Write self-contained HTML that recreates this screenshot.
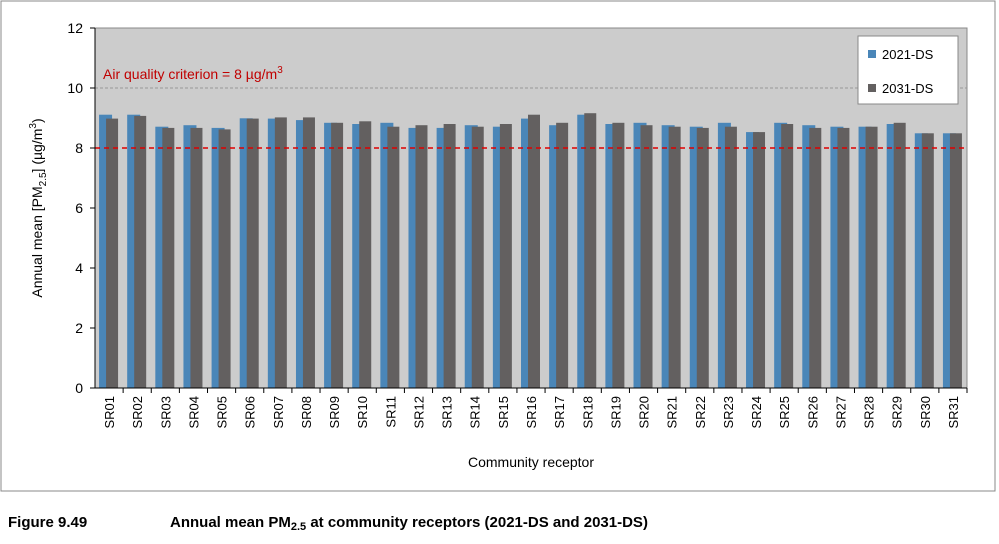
<!DOCTYPE html>
<html><head><meta charset="utf-8"><style>
body{margin:0;background:#fff;font-family:"Liberation Sans",Arial,sans-serif;}
#wrap{position:relative;width:999px;height:539px;}
</style></head><body>
<div id="wrap">
<svg id="chart" width="999" height="539" font-family="Liberation Sans, Arial, sans-serif">
<rect x="1" y="1" width="994" height="490" fill="#fff" stroke="#888"/>
<rect x="95" y="28" width="872" height="360" fill="#cccccc" stroke="#888"/>
<g id="grid"></g><g id="bars"></g><g id="axes"></g>
<text x="103" y="79" fill="#c00000" font-size="14">Air quality criterion = 8 µg/m<tspan dy="-6" font-size="10">3</tspan></text>
<text transform="translate(42,208) rotate(-90)" text-anchor="middle" font-size="14">Annual mean [PM<tspan dy="4" font-size="10">2.5</tspan><tspan dy="-4">] (µg/m</tspan><tspan dy="-6" font-size="10">3</tspan><tspan dy="6">)</tspan></text>
<text x="531" y="467" text-anchor="middle" font-size="14">Community receptor</text>
<g>
<rect x="858" y="36" width="100" height="68" fill="#fff" stroke="#888"/>
<rect x="868" y="50" width="8" height="8" fill="#4a86b8"/>
<text x="882" y="59" font-size="13">2021-DS</text>
<rect x="868" y="84" width="8" height="8" fill="#636060"/>
<text x="882" y="93" font-size="13">2031-DS</text>
</g>
<text x="8" y="527" font-size="15" font-weight="bold">Figure 9.49</text>
<text x="170" y="527" font-size="15" font-weight="bold">Annual mean PM<tspan dy="3" font-size="11">2.5</tspan><tspan dy="-3"> at community receptors (2021-DS and 2031-DS)</tspan></text>
</svg>
</div>
<script>
const categories=["SR01","SR02","SR03","SR04","SR05","SR06","SR07","SR08","SR09","SR10","SR11","SR12","SR13","SR14","SR15","SR16","SR17","SR18","SR19","SR20","SR21","SR22","SR23","SR24","SR25","SR26","SR27","SR28","SR29","SR30","SR31"];
const series2021=[9.11,9.11,8.71,8.76,8.67,8.99,8.98,8.93,8.84,8.8,8.84,8.67,8.67,8.76,8.71,8.98,8.76,9.11,8.8,8.84,8.76,8.71,8.84,8.53,8.84,8.76,8.71,8.71,8.8,8.49,8.49];
const series2031=[8.98,9.07,8.67,8.67,8.62,8.98,9.02,9.02,8.84,8.89,8.71,8.76,8.8,8.71,8.8,9.11,8.84,9.16,8.84,8.76,8.71,8.67,8.71,8.53,8.8,8.67,8.67,8.71,8.84,8.49,8.49];
const yTicks=[0,2,4,6,8,10,12];
const gridTicks=[10];
const criterion=8;
const NS="http://www.w3.org/2000/svg";
const X0=95,X1=967,Y0=388,Y1=28,YMAX=12;
const y=v=>Y0-(v/YMAX)*(Y0-Y1);
const bw=(X1-X0)/categories.length;
const xc=i=>X0+bw*(i+0.5);
function mk(tag,attrs,parent){const e=document.createElementNS(NS,tag);for(const k in attrs)e.setAttribute(k,attrs[k]);parent.appendChild(e);return e;}
const grid=document.getElementById('grid'),bars=document.getElementById('bars'),axes=document.getElementById('axes');
gridTicks.forEach(t=>{
  const l=mk('line',{x1:X0,x2:X1,y1:y(t),y2:y(t),stroke:'#999','stroke-dasharray':'3,2'},grid);
  
  
});
yTicks.forEach(t=>{
  const tk=mk('line',{x1:X0-5,x2:X0,y1:y(t),y2:y(t),stroke:'#000'},axes);
  
  
  const tx=mk('text',{x:X0-12,y:y(t)+5,'text-anchor':'end','font-size':14},axes);tx.textContent=t;
  
  
});
categories.forEach((c,i)=>{
  const cx=xc(i);
  const b1=mk('rect',{x:cx-10,y:y(series2021[i]),width:13,height:Y0-y(series2021[i]),fill:'#4a86b8'},bars);
  
  
  const b2=mk('rect',{x:cx-3,y:y(series2031[i]),width:12,height:Y0-y(series2031[i]),fill:'#636060'},bars);
  
  
  const tk=mk('line',{x1:X0+bw*(i+1),x2:X0+bw*(i+1),y1:Y0,y2:Y0+5,stroke:'#000'},axes);
  
  
  const tx=mk('text',{transform:`translate(${cx+5},${Y0+8}) rotate(-90)`,'text-anchor':'end','font-size':13},axes);tx.textContent=c;
  
  
});
const cl=mk('line',{x1:X0,x2:X1,y1:y(criterion),y2:y(criterion),stroke:'#e00000','stroke-width':1.5,'stroke-dasharray':'5,4'},axes);


const ax=mk('line',{x1:X0,x2:X1,y1:Y0,y2:Y0,stroke:'#000'},axes);


const ay=mk('line',{x1:X0,x2:X0,y1:Y1,y2:Y0,stroke:'#000'},axes);


</script>
</body></html>
